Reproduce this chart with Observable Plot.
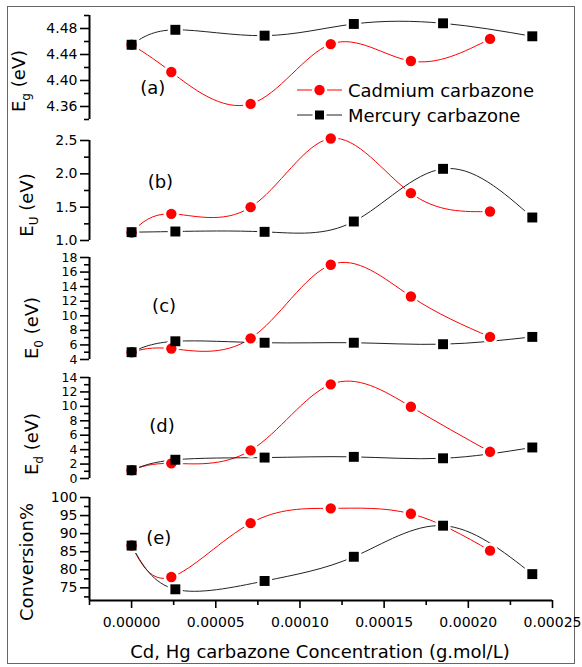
<!DOCTYPE html>
<html><head><meta charset="utf-8">
<script src="https://cdn.jsdelivr.net/npm/d3@7"></script>
<script src="https://cdn.jsdelivr.net/npm/@observablehq/plot@0.6"></script>
<style>
body{margin:0;background:#fff;font-family:"DejaVu Sans",sans-serif;}
#wrap{position:relative;width:582px;height:667px;overflow:hidden;background:#fff;}
#frame{position:absolute;left:7px;top:6px;width:568px;height:658px;border:1.5px solid #666;box-sizing:border-box;}
.panel{position:absolute;left:0;}
</style></head><body><div id="wrap"><div id="frame"></div></div>
<script>
// concentrations (g.mol/L)
const cdX = [0, 2.36e-5, 7.07e-5, 1.183e-4, 1.659e-4, 2.129e-4];
const hgX = [0, 2.6e-5, 7.9e-5, 1.32e-4, 1.85e-4, 2.38e-4];
// (a) Eg
const cdEg = [4.455, 4.413, 4.364, 4.456, 4.430, 4.464];
const hgEg = [4.455, 4.478, 4.469, 4.487, 4.488, 4.468];
// (b) EU
const cdEu = [1.12, 1.40, 1.50, 2.53, 1.71, 1.435];
const hgEu = [1.125, 1.135, 1.13, 1.285, 2.075, 1.345];
// (c) E0
const cdE0 = [5.0, 5.5, 6.9, 17.0, 12.65, 7.1];
const hgE0 = [5.0, 6.5, 6.3, 6.3, 6.1, 7.1];
// (d) Ed
const cdEd = [1.15, 2.1, 3.9, 13.05, 9.95, 3.7];
const hgEd = [1.15, 2.6, 2.9, 3.0, 2.8, 4.3];
// (e) Conversion %
const cdConv = [86.7, 78.0, 92.9, 97.0, 95.5, 85.3];
const hgConv = [86.7, 74.6, 76.9, 83.6, 92.2, 78.8];

const seriesNames = ["Cadmium carbazone", "Mercury carbazone"];
const xTicks = [0, 0.00005, 0.0001, 0.00015, 0.0002, 0.00025];
const xMinor = [-0.000025, 0.000025, 0.000075, 0.000125, 0.000175, 0.000225];
const egTicks = [4.36, 4.40, 4.44, 4.48], egMinor = [4.34, 4.38, 4.42, 4.46, 4.50];
const euTicks = [1.0, 1.5, 2.0, 2.5], euMinor = [1.25, 1.75, 2.25];
const e0Ticks = [4, 6, 8, 10, 12, 14, 16, 18], e0Minor = [5, 7, 9, 11, 13, 15, 17];
const edTicks = [0, 2, 4, 6, 8, 10, 12, 14], edMinor = [1, 3, 5, 7, 9, 11, 13];
const convTicks = [75, 80, 85, 90, 95, 100], convMinor = [72.5, 77.5, 82.5, 87.5, 92.5, 97.5];
const panelTags = ["(a)", "(b)", "(c)", "(d)", "(e)"];
const tagX = [1.26e-5, 1.71e-5, 1.93e-5, 1.81e-5, 1.61e-5];
const tagY = [4.388, 1.87, 11.33, 7.2, 88.65];
const xTitle = "Cd, Hg carbazone Concentration (g.mol/L)";

const xDomain = [-0.000025, 0.00025];
const panels = [
  {cd: cdEg, hg: hgEg, domain: [4.34, 4.50], ticks: egTicks, minor: egMinor, fmt: ".2f", top: 15, bottom: 119, fs: 14},
  {cd: cdEu, hg: hgEu, domain: [1.0, 2.5], ticks: euTicks, minor: euMinor, fmt: ".1f", top: 140, bottom: 240, fs: 14},
  {cd: cdE0, hg: hgE0, domain: [4, 18], ticks: e0Ticks, minor: e0Minor, fmt: "d", top: 257, bottom: 359, fs: 12.5},
  {cd: cdEd, hg: hgEd, domain: [0, 14], ticks: edTicks, minor: edMinor, fmt: "d", top: 377, bottom: 478, fs: 12.5},
  {cd: cdConv, hg: hgConv, domain: [71.5, 100], ticks: convTicks, minor: convMinor, fmt: "d", top: 497, bottom: 600, fs: 14, last: true}
];

const wrap = document.getElementById("wrap");
panels.forEach((p, i) => {
  const cd = cdX.map((x, k) => ({x, y: p.cd[k]}));
  const hg = hgX.map((x, k) => ({x, y: p.hg[k]}));
  const mb = p.last ? 40 : 0;
  const marks = [
    Plot.ruleX([xDomain[0]], {stroke: "#000", strokeWidth: 2}),
    Plot.axisY({ticks: p.minor, tickSize: 5, tickFormat: () => "", strokeWidth: 1.6, label: null}),
    Plot.axisY({ticks: p.ticks, tickSize: 9, tickPadding: 3, tickFormat: d3.format(p.fmt), strokeWidth: 1.6, label: null, fontSize: p.fs}),
    Plot.line(cd, {x: "x", y: "y", curve: "natural", stroke: "#ff0000", strokeWidth: 1}),
    Plot.line(hg, {x: "x", y: "y", curve: "natural", stroke: "#222", strokeWidth: 1}),
    Plot.dot(cd, {x: "x", y: "y", r: 5.2, fill: "#fff", stroke: "#fff", strokeWidth: 5}),
    Plot.dot(hg, {x: "x", y: "y", r: 5.6, symbol: "square", fill: "#fff", stroke: "#fff", strokeWidth: 5}),
    Plot.dot(cd, {x: "x", y: "y", r: 5.2, fill: "#ff0000"}),
    Plot.dot(hg, {x: "x", y: "y", r: 5.6, symbol: "square", fill: "#000"}),
    Plot.text([{x: tagX[i], y: tagY[i], t: panelTags[i]}], {x: "x", y: "y", text: "t", fontSize: 18, fill: "#000"})
  ];
  if (p.last) {
    marks.push(
      Plot.ruleY([p.domain[0]], {stroke: "#000", strokeWidth: 2}),
      Plot.axisX({ticks: xMinor, tickSize: 5, tickFormat: () => "", strokeWidth: 1.6, label: null}),
      Plot.axisX({ticks: xTicks, tickSize: 8, tickPadding: 9, tickFormat: d3.format(".5f"), strokeWidth: 1.6, label: null})
    );
  }
  const svg = Plot.plot({
    width: 582,
    height: p.bottom - p.top + mb,
    marginLeft: 89, marginRight: 30, marginTop: 0, marginBottom: mb,
    x: {domain: xDomain, axis: null},
    y: {domain: p.domain, axis: null},
    style: {background: "transparent", overflow: "visible", fontFamily: "DejaVu Sans", fontSize: "14px", color: "#000"},
    marks
  });
  svg.classList.add("panel");
  svg.style.top = p.top + "px";
  wrap.appendChild(svg);
});

// overlay: axis titles and legend
const ov = d3.select(wrap).append("svg")
  .attr("width", 582).attr("height", 667)
  .style("position", "absolute").style("left", 0).style("top", 0)
  .style("overflow", "visible")
  .attr("font-family", "DejaVu Sans").attr("font-size", 18).attr("fill", "#000");

const yTitles = [
  {main: "E", sub: "g", rest: " (eV)", x: 25, y: 81},
  {main: "E", sub: "U", rest: " (eV)", x: 33, y: 205},
  {main: "E", sub: "0", rest: " (eV)", x: 38, y: 328},
  {main: "E", sub: "d", rest: " (eV)", x: 38, y: 444},
  {main: "Conversion%", sub: "", rest: "", x: 33, y: 562}
];
yTitles.forEach(t => {
  const tx = ov.append("text").attr("text-anchor", "middle")
    .attr("transform", `translate(${t.x},${t.y}) rotate(-90)`);
  tx.append("tspan").text(t.main);
  if (t.sub) {
    tx.append("tspan").attr("font-size", 12).attr("dy", 5).text(t.sub);
    tx.append("tspan").attr("dy", -5).text(t.rest);
  }
});
ov.append("text").attr("x", 320).attr("y", 658).attr("text-anchor", "middle").text(xTitle);

// legend
const leg = [
  {name: seriesNames[0], color: "#ff0000", sym: "circle", y: 90},
  {name: seriesNames[1], color: "#222", sym: "square", y: 115}
];
leg.forEach(l => {
  ov.append("line").attr("x1", 297).attr("x2", 342).attr("y1", l.y).attr("y2", l.y)
    .attr("stroke", l.color).attr("stroke-width", 1);
  if (l.sym === "circle") {
    ov.append("circle").attr("cx", 319.5).attr("cy", l.y).attr("r", 5.2)
      .attr("fill", "#ff0000").attr("stroke", "#fff").attr("stroke-width", 5).attr("paint-order", "stroke");
  } else {
    ov.append("rect").attr("x", 315).attr("y", l.y - 4.5).attr("width", 9).attr("height", 9)
      .attr("fill", "#000").attr("stroke", "#fff").attr("stroke-width", 5).attr("paint-order", "stroke");
  }
  ov.append("text").attr("x", 348).attr("y", l.y + 6.5).text(l.name);
});
</script>
</body></html>
